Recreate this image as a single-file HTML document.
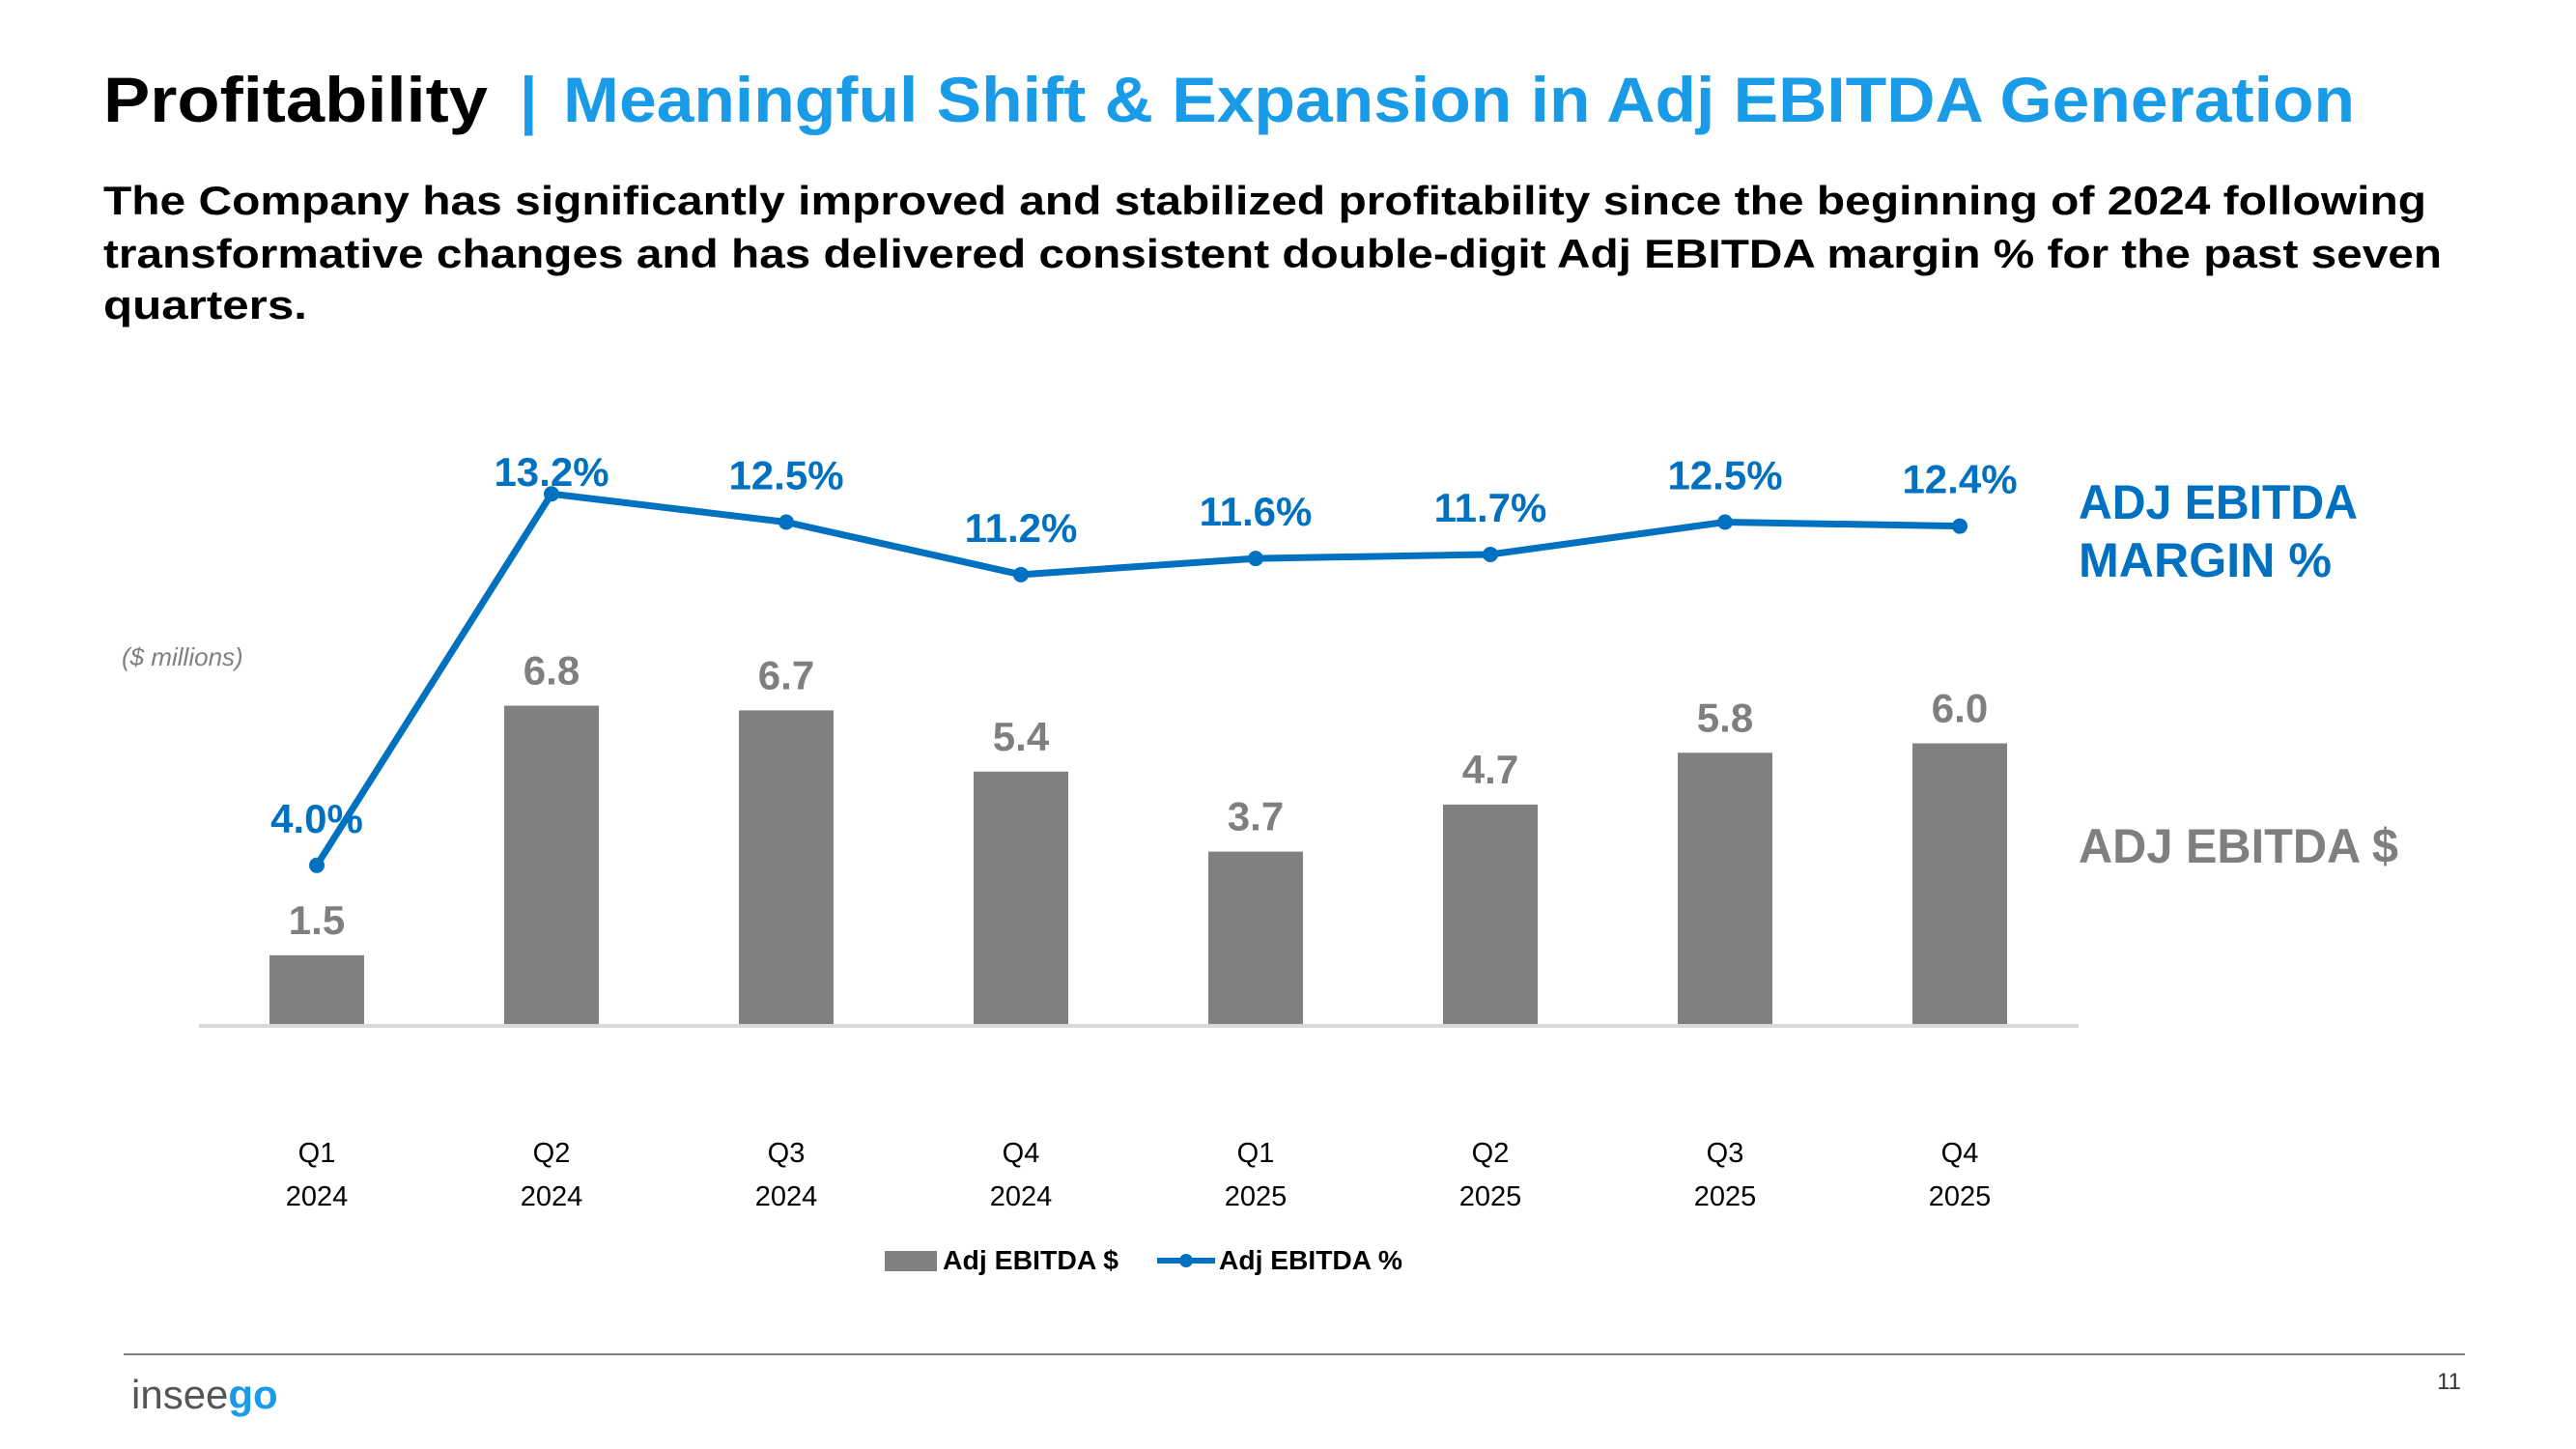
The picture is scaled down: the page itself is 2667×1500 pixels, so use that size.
<!DOCTYPE html>
<html><head><meta charset="utf-8"><style>
html,body{margin:0;padding:0;background:#fff;}
svg{display:block;font-family:"Liberation Sans",sans-serif;}
</style></head><body>
<svg id="chart" width="2667" height="1500" viewBox="0 0 2667 1500" xmlns="http://www.w3.org/2000/svg">
<text x="107" y="126" font-size="66" font-weight="bold" fill="#000" textLength="398" lengthAdjust="spacingAndGlyphs">Profitability</text>
<text x="538" y="126" font-size="66" font-weight="bold" fill="#1a9be8">|</text>
<text x="583" y="126" font-size="66" font-weight="bold" fill="#1a9be8" textLength="1855" lengthAdjust="spacingAndGlyphs">Meaningful Shift &amp; Expansion in Adj EBITDA Generation</text>
<g font-size="42" font-weight="bold" fill="#000">
<text x="107" y="222" textLength="2405" lengthAdjust="spacingAndGlyphs">The Company has significantly improved and stabilized profitability since the beginning of 2024 following</text>
<text x="107" y="277" textLength="2421" lengthAdjust="spacingAndGlyphs">transformative changes and has delivered consistent double-digit Adj EBITDA margin % for the past seven</text>
<text x="107" y="330" textLength="211" lengthAdjust="spacingAndGlyphs">quarters.</text>
</g>
<text x="126" y="689" font-size="26" font-style="italic" fill="#7f7f7f">($ millions)</text>
<text x="2152" y="537" font-size="50" font-weight="bold" fill="#0070c0" textLength="289" lengthAdjust="spacingAndGlyphs">ADJ EBITDA</text>
<text x="2152" y="597" font-size="50" font-weight="bold" fill="#0070c0" textLength="262" lengthAdjust="spacingAndGlyphs">MARGIN %</text>
<text x="2152" y="893" font-size="50" font-weight="bold" fill="#7f7f7f" textLength="331" lengthAdjust="spacingAndGlyphs">ADJ EBITDA $</text>
<g id="plot"></g>
<line x1="206" y1="1062" x2="2152" y2="1062" stroke="#d9d9d9" stroke-width="4"/>
<g>
<rect x="916" y="1295" width="54" height="21" fill="#808080"/>
<text x="976" y="1314" font-size="28" font-weight="bold" fill="#000" textLength="182" lengthAdjust="spacingAndGlyphs">Adj EBITDA $</text>
<line x1="1198" y1="1305" x2="1258" y2="1305" stroke="#0070c0" stroke-width="6"/>
<circle cx="1228" cy="1305" r="7" fill="#0070c0"/>
<text x="1262" y="1314" font-size="28" font-weight="bold" fill="#000" textLength="190" lengthAdjust="spacingAndGlyphs">Adj EBITDA %</text>
</g>
<line x1="128" y1="1402" x2="2552" y2="1402" stroke="#7f7f7f" stroke-width="2"/>
<text x="136" y="1458" font-size="42" fill="#555">insee<tspan fill="#1a9be8" font-weight="bold">go</tspan></text>
<text x="2548" y="1438" font-size="24" fill="#333" text-anchor="end">11</text>
</svg>
<script>
const quarters = ["Q1","Q2","Q3","Q4","Q1","Q2","Q3","Q4"];
const years = ["2024","2024","2024","2024","2025","2025","2025","2025"];
const dollars = [1.5,6.8,6.7,5.4,3.7,4.7,5.8,6.0];
const margins = [4.0,13.2,12.5,11.2,11.6,11.7,12.5,12.4];
const dollarLabels = ["1.5","6.8","6.7","5.4","3.7","4.7","5.8","6.0"];
const marginLabels = ["4.0%","13.2%","12.5%","11.2%","11.6%","11.7%","12.5%","12.4%"];

const NS = "http://www.w3.org/2000/svg";
const g = document.getElementById('plot');
const x = i => 328 + i * 243;
const yBar = v => 1062 - v * 48.75;
const yLine = v => 1063 - v * 41.8;
function mk(tag, attrs, txt){
  const e = document.createElementNS(NS, tag);
  for (const k in attrs) e.setAttribute(k, attrs[k]);
  if (txt !== undefined) e.textContent = txt;
  g.appendChild(e);
  return e;
}
dollars.forEach((v,i)=>{
  const r = mk('rect',{x:x(i)-49,y:yBar(v),width:98,height:1062-yBar(v),fill:'#808080'});
  
  
  const t = mk('text',{x:x(i),y:yBar(v)-22,'font-size':42,'font-weight':'bold',fill:'#7f7f7f','text-anchor':'middle'},dollarLabels[i]);
  
  
  const q = mk('text',{x:x(i),y:1203,'font-size':29,fill:'#000','text-anchor':'middle'},quarters[i]);
  
  
  const yr = mk('text',{x:x(i),y:1248,'font-size':29,fill:'#000','text-anchor':'middle'},years[i]);
  
  
});
const pts = margins.map((v,i)=>x(i)+','+yLine(v)).join(' ');
const pl = mk('polyline',{points:pts,fill:'none',stroke:'#0070c0','stroke-width':7,'stroke-linejoin':'round'});


margins.forEach((v,i)=>{
  const c = mk('circle',{cx:x(i),cy:yLine(v),r:8,fill:'#0070c0'});
  
  
  const off = i === 1 ? 8 : 34;
  const t = mk('text',{x:x(i),y:yLine(v)-off,'font-size':42,'font-weight':'bold',fill:'#0070c0','text-anchor':'middle'},marginLabels[i]);
  
  
});
</script>
</body></html>
